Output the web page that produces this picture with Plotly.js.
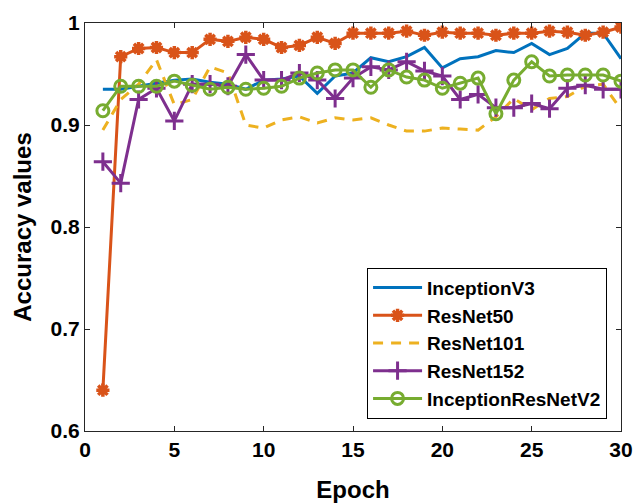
<!DOCTYPE html>
<html><head><meta charset="utf-8">
<script src="https://cdn.plot.ly/plotly-3.0.1.min.js"></script>
<style>body{margin:0;background:#fff}#chart{width:644px;height:503px}</style>
</head><body><div id="chart"></div>
<script>
const epochs = [1,2,3,4,5,6,7,8,9,10,11,12,13,14,15,16,17,18,19,20,21,22,23,24,25,26,27,28,29,30];
const inceptionV3 = [0.935,0.935,0.938,0.941,0.944,0.945,0.942,0.940,0.935,0.944,0.945,0.948,0.931,0.948,0.951,0.966,0.962,0.967,0.976,0.956,0.965,0.967,0.973,0.971,0.980,0.969,0.975,0.990,0.990,0.965];
const resnet50 = [0.640,0.967,0.975,0.976,0.971,0.971,0.984,0.982,0.986,0.984,0.976,0.978,0.986,0.980,0.990,0.990,0.990,0.992,0.988,0.991,0.990,0.990,0.988,0.990,0.990,0.992,0.991,0.988,0.991,0.996];
const resnet101 = [0.895,0.925,0.940,0.964,0.920,0.925,0.957,0.951,0.900,0.897,0.905,0.908,0.902,0.907,0.905,0.907,0.900,0.894,0.894,0.897,0.896,0.895,0.908,0.926,0.915,0.926,0.928,0.938,0.940,0.915];
const resnet152 = [0.864,0.843,0.925,0.936,0.904,0.940,0.940,0.938,0.969,0.944,0.944,0.951,0.944,0.926,0.946,0.957,0.954,0.962,0.953,0.948,0.925,0.930,0.917,0.917,0.921,0.916,0.936,0.939,0.935,0.935];
const incResV2 = [0.914,0.938,0.938,0.938,0.943,0.939,0.935,0.937,0.935,0.936,0.938,0.946,0.951,0.954,0.954,0.937,0.954,0.947,0.944,0.936,0.941,0.946,0.911,0.944,0.962,0.948,0.949,0.949,0.949,0.943];
const names = ['InceptionV3','ResNet50','ResNet101','ResNet152','InceptionResNetV2'];
const xTicks = [0,5,10,15,20,25,30];
const yTicks = [0.6,0.7,0.8,0.9,1];

const FONT = 'Liberation Sans, Arial, Helvetica, sans-serif';

const traces = [
  {x: epochs, y: inceptionV3, name: names[0], mode: 'lines', line: {color: '#0072BD', width: 3}},
  {x: epochs, y: resnet50, name: names[1], mode: 'lines+markers', line: {color: '#D95319', width: 3},
   marker: {symbol: 'asterisk-open', size: 11, color: '#D95319', line: {color: '#D95319', width: 3.5}}},
  {x: epochs, y: resnet101, name: names[2], mode: 'lines', line: {color: '#EDB120', width: 3, dash: '10px,8px'}},
  {x: epochs, y: resnet152, name: names[3], mode: 'lines+markers', line: {color: '#7E2F8E', width: 3},
   marker: {symbol: 'cross-thin-open', size: 13, color: '#7E2F8E', line: {color: '#7E2F8E', width: 3}}},
  {x: epochs, y: incResV2, name: names[4], mode: 'lines+markers', line: {color: '#77AC30', width: 3},
   marker: {symbol: 'circle-open', size: 12, color: '#77AC30', line: {color: '#77AC30', width: 3}}}
];

const axisCommon = {
  showgrid: false, zeroline: false, showline: true, linecolor: '#262626', linewidth: 1,
  mirror: 'allticks', ticks: 'inside', ticklen: 5, tickcolor: '#262626',
  tickfont: {family: FONT, size: 21, color: '#000', weight: 'bold'}
};

const layout = {
  width: 644, height: 503,
  margin: {l: 85, r: 23, t: 23, b: 72},
  paper_bgcolor: '#fff', plot_bgcolor: '#fff',
  showlegend: true,
  xaxis: Object.assign({}, axisCommon, {
    range: [0, 30], tickmode: 'array', tickvals: xTicks, ticktext: xTicks.map(String),
    title: {text: 'Epoch', font: {family: FONT, size: 24, color: '#000', weight: 'bold'}, standoff: 22}
  }),
  yaxis: Object.assign({}, axisCommon, {
    range: [0.6, 1], tickmode: 'array', tickvals: yTicks, ticktext: yTicks.map(String),
    title: {text: 'Accuracy values', font: {family: FONT, size: 24, color: '#000', weight: 'bold'}, standoff: 12}
  }),
  legend: {
    x: 0.974, y: 0.03, xanchor: 'right', yanchor: 'bottom',
    bgcolor: '#fff', bordercolor: '#000', borderwidth: 1,
    font: {family: FONT, size: 19, color: '#000', weight: 'bold'},
    tracegroupgap: 0, itemwidth: 49
  }
};

Plotly.newPlot('chart', traces, layout, {displayModeBar: false, staticPlot: true});
</script>
</body></html>
